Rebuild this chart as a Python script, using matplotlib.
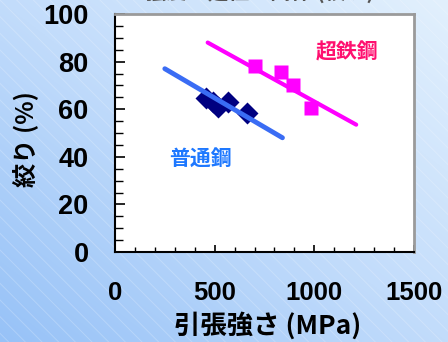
import numpy as np
import matplotlib
matplotlib.use("Agg")
import matplotlib.pyplot as plt
from matplotlib.patches import Rectangle
from matplotlib.colors import LinearSegmentedColormap

plt.rcParams['font.family'] = ['Noto Sans CJK JP', 'DejaVu Sans']
plt.rcParams['hatch.color'] = (1, 1, 1, 0.22)
plt.rcParams['hatch.linewidth'] = 0.7

# ---- data ----
normal_x = [455, 490, 515, 565, 660]
normal_y = [64.5, 63, 61, 63, 58.5]
super_x = [700, 835, 895, 985]
super_y = [78, 75.5, 70, 60.5]
normal_fit_x = [250, 840]
normal_fit_y = [77, 48]
super_fit_x = [465, 1210]
super_fit_y = [88, 53.5]
x_ticks = [0, 500, 1000, 1500]
y_ticks = [0, 20, 40, 60, 80, 100]
x_label = '引張強さ (MPa)'
y_label = '絞り (%)'
label_super = '超鉄鋼'
label_normal = '普通鋼'
title_text = '強度と延性の関係 (絞り)'

W, H = 448, 342
fig = plt.figure(figsize=(W / 100, H / 100), dpi=100)

# background gradient
bg = fig.add_axes([0, 0, 1, 1], zorder=-10)
bg.set_axis_off()
gy, gx = np.mgrid[0:1:200j, 0:1:200j]
grad = (gx + gy) / 2.0
cmap = LinearSegmentedColormap.from_list('bgc', ['#97c2f7', '#c2dcfb', '#e2f0fd'])
bg.imshow(grad, cmap=cmap, extent=[0, 1, 0, 1], origin='lower', aspect='auto')
bg.add_patch(Rectangle((0, 0), 1, 1, transform=bg.transAxes, facecolor='none',
                       edgecolor=(1, 1, 1, 0.22), hatch='\\\\', linewidth=0))
bg.set_xlim(0, 1)
bg.set_ylim(0, 1)

fig.text(0.58, 1 + 1 / H, title_text, ha='center', va='baseline',
         fontsize=15, color='#555555', fontweight='bold')

ax = fig.add_axes([115 / W, 1 - 252 / H, 299 / W, 238 / H])
ax.set_facecolor('white')

ax.plot(super_fit_x, super_fit_y, color='#ff00ff', lw=3, solid_capstyle='round', zorder=2)
ax.plot(normal_fit_x, normal_fit_y, color='#3a6cf4', lw=3.5, solid_capstyle='round', zorder=3)
ax.plot(super_x, super_y, 's', color='#ff00ff', ms=10, mec='none', zorder=1)
ax.plot(normal_x, normal_y, 'D', color='#000080', ms=11, mec='none', zorder=1)

ax.text(1165, 84, label_super, color='#ff1070', fontsize=15, fontweight='bold',
        ha='center', va='center')
ax.text(430, 39.5, label_normal, color='#1e78ff', fontsize=15, fontweight='bold',
        ha='center', va='center')

ax.set_xlim(0, 1500)
ax.set_ylim(0, 100)
ax.set_xticks(x_ticks)
ax.set_yticks(y_ticks)
ax.set_xticks(np.arange(0, 1501, 100), minor=True)
ax.set_yticks(np.arange(0, 101, 5), minor=True)
ax.tick_params(axis='x', which='major', direction='in', length=5, width=1.2,
               pad=21, labelsize=18.5)
ax.tick_params(axis='x', which='minor', direction='in', length=3.5, width=1)
ax.tick_params(axis='y', which='major', direction='in', length=7, width=1.2,
               pad=19, labelsize=19.5)
ax.tick_params(axis='y', which='minor', direction='in', length=5.5, width=1)
for lab in ax.get_xticklabels() + ax.get_yticklabels():
    lab.set_fontfamily('Liberation Sans')
    lab.set_fontweight('bold')

for s in ['left', 'bottom']:
    ax.spines[s].set_color('black')
    ax.spines[s].set_linewidth(1.5)
for s in ['top', 'right']:
    ax.spines[s].set_color('#9a9a9a')
    ax.spines[s].set_linewidth(2)

ax.set_xlabel(x_label, fontsize=19, fontweight='bold')
ax.xaxis.set_label_coords((268 - 115) / 299, -(312 - 252) / 238)
ax.set_ylabel(y_label, fontsize=17.5, fontweight='bold')
ax.yaxis.set_label_coords((39 - 115) / 299, (252 - 139) / 238)

fig.savefig('out.png', dpi=100)
